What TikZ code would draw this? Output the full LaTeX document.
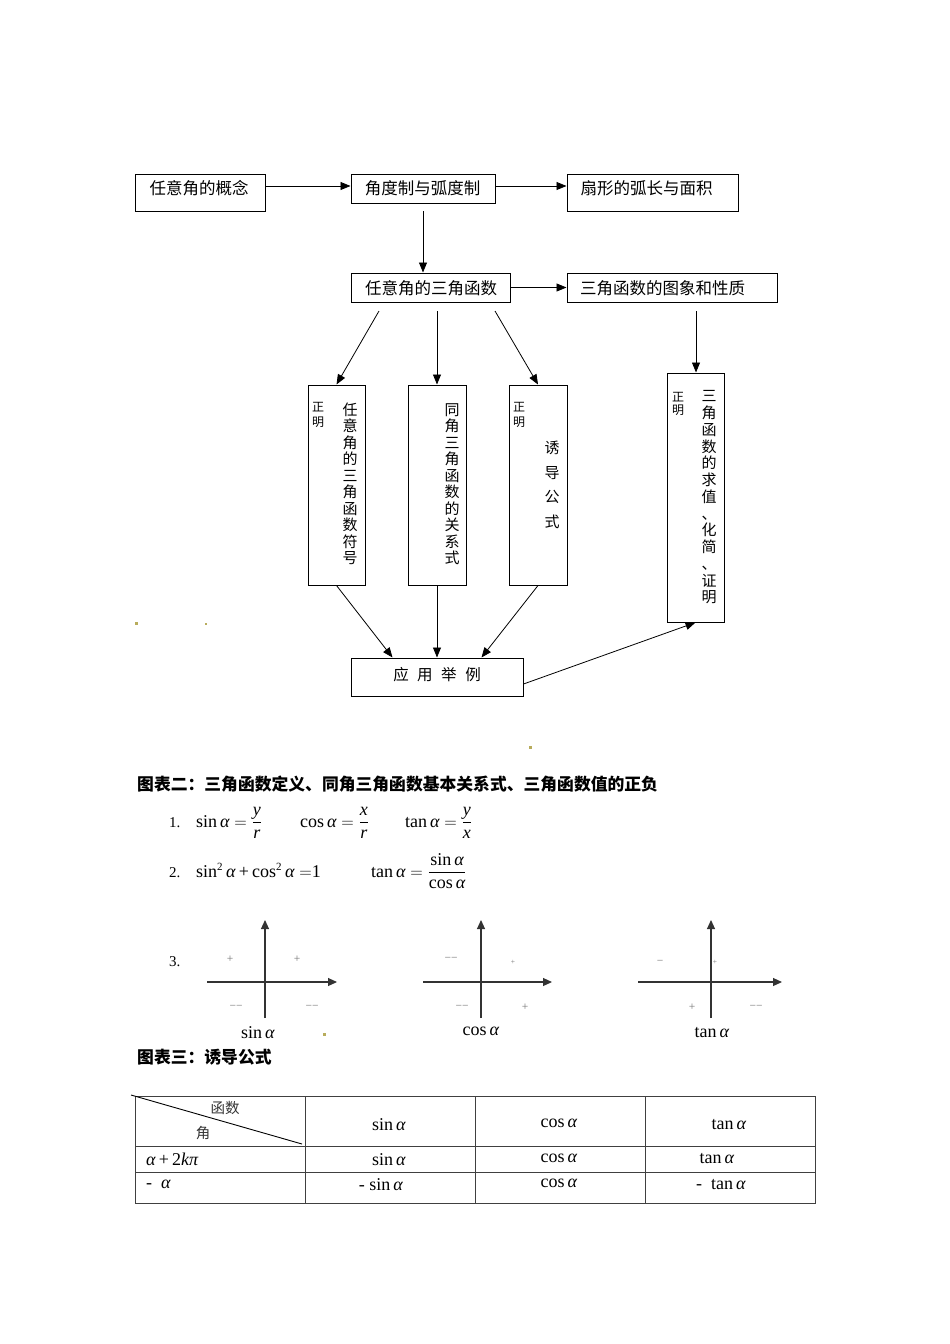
\documentclass[tikz,border=0pt]{standalone}
\usepackage{fontspec}
\setmainfont{Liberation Serif}
\newfontfamily\cjk{Noto Sans CJK SC}
\usetikzlibrary{arrows.meta,calc}
\newcommand{\al}{\textit{α}}
\newcommand{\fs}[2]{\fontsize{#1}{#2}\selectfont}
\definecolor{dotc}{HTML}{B8AC5C}
\begin{document}
\begin{tikzpicture}[x=1pt,y=-1pt,
 box/.style={draw, line width=1pt, inner sep=0},
 arr/.style={-{Triangle[length=10pt,width=8pt]}, line width=0.8pt},
 lbl/.style={inner sep=0, font=\cjk\fs{16.5}{18}},
 vt/.style={inner sep=0, align=center},
 small/.style={inner sep=0, align=center, font=\cjk\fs{12}{15}},
 sg/.style={inner sep=0, font=\fs{11.5}{12}, text=black!55},
 ax/.style={-{Triangle[length=9pt,width=8pt]}, line width=1.1pt, draw=black!80},
 tl/.style={draw=black!75, line width=0.8pt},
 mth/.style={inner sep=0, font=\fs{18}{20}},
 dot/.style={fill=dotc, draw=none}
]
\useasboundingbox (0,0) rectangle (950,1344);
% ---------- flow chart boxes ----------
\node[box, minimum width=130, minimum height=37] (b1) at (200,192.5) {};
\node[box, minimum width=144, minimum height=29] (b2) at (423,188.5) {};
\node[box, minimum width=171, minimum height=37] (b3) at (652.5,192.5) {};
\node[box, minimum width=159, minimum height=29] (b4) at (430.5,287.5) {};
\node[box, minimum width=210, minimum height=29] (b5) at (672,287.5) {};
\node[box, minimum width=57, minimum height=200] (vA) at (336.5,485) {};
\node[box, minimum width=58, minimum height=200] (vB) at (437,485) {};
\node[box, minimum width=58, minimum height=200] (vC) at (538,485) {};
\node[box, minimum width=57, minimum height=249] (vD) at (695.5,497.5) {};
\node[box, minimum width=172, minimum height=38] (bot) at (437,677) {};
% ---------- texts ----------
\node[lbl] (t1) at (199,188) {任意角的概念};
\node[lbl] (t2) at (422.5,188) {角度制与弧度制};
\node[lbl] (t3) at (646.5,188) {扇形的弧长与面积};
\node[lbl] (t4) at (431,288) {任意角的三角函数};
\node[lbl] (t5) at (662.5,288) {三角函数的图象和性质};
\node[small] (zA) at (318,414.5) {正\\明};
\node[vt, font=\cjk\fs{15}{16.5}] (tA) at (350,484) {任\\意\\角\\的\\三\\角\\函\\数\\符\\号};
\node[vt, font=\cjk\fs{15}{16.5}] (tB) at (452,484) {同\\角\\三\\角\\函\\数\\的\\关\\系\\式};
\node[small] (zC) at (519,414.5) {正\\明};
\node[vt, font=\cjk\fs{15}{24.7}] (tC) at (552,485) {诱\\导\\公\\式};
\node[small, font=\cjk\fs{12}{13}] (zD) at (678,403.5) {正\\明};
\node[vt, font=\cjk\fs{15}{16.75}] (tD) at (709,497.5) {三\\角\\函\\数\\的\\求\\值\\、\\化\\简\\、\\证\\明};
\node[inner sep=0, font=\cjk\fs{15.5}{17}] (tE) at (437,675) {应\hspace{8.5pt}用\hspace{8.5pt}举\hspace{8.5pt}例};
% ---------- connectors ----------
\coordinate (r1) at (0,186);
\coordinate (s2) at (423,211);
\coordinate (sA) at (379,311);
\coordinate (sB) at (437,311);
\coordinate (sC) at (495,311);
\coordinate (sD) at (696,311);
\draw[arr] (b1.east |- r1) -- (b2.west |- r1);
\draw[arr] (b2.east |- r1) -- (b3.west |- r1);
\draw[arr] (s2) -- (s2 |- b4.north);
\draw[arr] (b4.east) -- (b5.west);
\draw[arr] (sA) -- (vA.north);
\draw[arr] (sB) -- (vB.north);
\draw[arr] (sC) -- (vC.north);
\draw[arr] (sD) -- (sD |- vD.north);
\draw[arr] (vA.south) -- ($(bot.north west)+(42,0)$);
\draw[arr] (vB.south) -- (bot.north);
\draw[arr] (vC.south) -- ($(bot.north west)+(131,0)$);
\draw[arr] ($(bot.east)+(0,7)$) -- (vD.south);
% ---------- stray dots ----------
\fill[dot] (135,622) rectangle (138,625);
\fill[dot] (204.5,622.5) rectangle (206.5,624.5);
\fill[dot] (529,746) rectangle (532,749);
\fill[dot] (323,1033) rectangle (326,1036);
% ---------- section 2 ----------
\node[anchor=west, inner sep=0, font=\cjk\bfseries\fs{16.8}{19}] (h2) at (137,784) {图表二：三角函数定义、同角三角函数基本关系式、三角函数值的正负};
\node[anchor=base west, inner sep=0, font=\fs{15}{17}] (n1) at (169,827) {1.};
\node[anchor=base west, mth] (f1) at (196,827) {sin\,\al\ $=\displaystyle\frac{\textit{y}}{\textit{r}}$};
\node[anchor=base west, mth] (f2) at (300,827) {cos\,\al\ $=\displaystyle\frac{\textit{x}}{\textit{r}}$};
\node[anchor=base west, mth] (f3) at (405,827) {tan\,\al\ $=\displaystyle\frac{\textit{y}}{\textit{x}}$};
\node[anchor=base west, inner sep=0, font=\fs{15}{17}] (n2) at (169,877) {2.};
\node[anchor=base west, mth] (f4) at (196,877) {sin\textsuperscript{\fs{11}{12}2}\,\al\,+\,cos\textsuperscript{\fs{11}{12}2}\,\al\ $=$1};
\node[anchor=base west, mth] (f5) at (371,877) {tan\,\al\ $=\displaystyle\frac{\textrm{sin}\,\al}{\textrm{cos}\,\al}$};
\node[anchor=base west, inner sep=0, font=\fs{15}{17}] (n3) at (169,966) {3.};
% sign diagrams
\draw[ax] (207,982) -- (337,982);
\draw[ax] (265,1018) -- (265,920);
\node[sg] (a1) at (230,959) {+};
\node[sg] (a2) at (297,959) {+};
\node[sg] (a3) at (236,1007) {−−};
\node[sg] (a4) at (312,1007) {−−};
\node[mth] (l1) at (258,1033) {sin\,\al};
\draw[ax] (423,982) -- (552,982);
\draw[ax] (481,1018) -- (481,920);
\node[sg] (c1) at (451,959) {−−};
\node[sg, font=\fs{7.5}{8}] (c2) at (513,962) {+};
\node[sg] (c3) at (462,1007) {−−};
\node[sg] (c4) at (525,1007) {+};
\node[mth] (l2) at (481,1031) {cos\,\al};
\draw[ax] (638,982) -- (782,982);
\draw[ax] (711,1018) -- (711,920);
\node[sg] (d1) at (660,962) {−};
\node[sg, font=\fs{7.5}{8}] (d2) at (715,962) {+};
\node[sg] (d3) at (692,1007) {+};
\node[sg] (d4) at (756,1007) {−−};
\node[mth] (l3) at (712,1033) {tan\,\al};
% ---------- section 3 ----------
\node[anchor=west, inner sep=0, font=\cjk\bfseries\fs{16.8}{19}] (h3) at (137,1057) {图表三：诱导公式};
\draw[tl] (135,1096) rectangle (815,1203);
\draw[tl] (305,1096) -- (305,1203);
\draw[tl] (475,1096) -- (475,1203);
\draw[tl] (645,1096) -- (645,1203);
\draw[tl] (135,1146) -- (815,1146);
\draw[tl] (135,1172) -- (815,1172);
\draw[line width=0.9pt] (131,1095) -- (302,1144);
\node[inner sep=0, font=\cjk\fs{14.5}{15}, text=black!80] (g1) at (225,1108) {函数};
\node[inner sep=0, font=\cjk\fs{14.5}{15}, text=black!80] (g2) at (203,1133) {角};
\node[mth] (h1) at (389,1125) {sin\,\al};
\node[mth] (h2c) at (559,1123) {cos\,\al};
\node[mth] (h3c) at (729,1125) {tan\,\al};
\node[mth, anchor=west] (r2a) at (146,1159) {\al\,+\,2\textit{kπ}};
\node[mth] (r2b) at (389,1160) {sin\,\al};
\node[mth] (r2c) at (559,1158) {cos\,\al};
\node[mth] (r2d) at (717,1159) {tan\,\al};
\node[mth, anchor=west] (r3a) at (146,1184) {-\ \ \al};
\node[mth] (r3b) at (381,1185) {-\ sin\,\al};
\node[mth] (r3c) at (559,1183) {cos\,\al};
\node[mth] (r3d) at (721,1185) {-\ \ tan\,\al};
\end{tikzpicture}
\end{document}
